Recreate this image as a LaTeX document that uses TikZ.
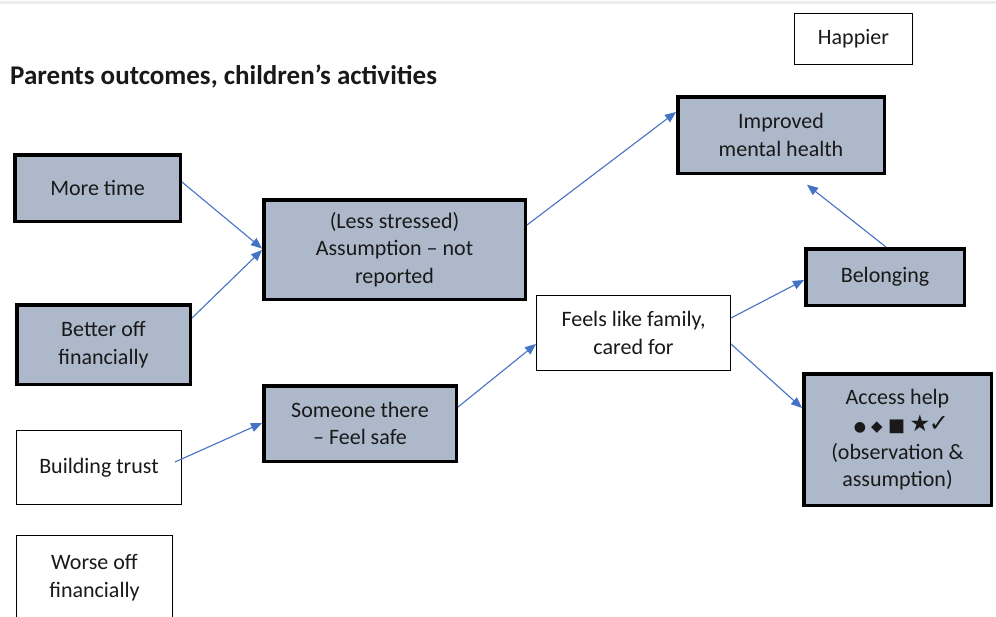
\documentclass[tikz,border=0pt]{standalone}
\usepackage{fontspec}
\setmainfont{Carlito}
\newfontfamily\symfont{DejaVu Sans}
\usetikzlibrary{arrows.meta,calc}
\definecolor{boxgray}{HTML}{ADB9CA}
\definecolor{linkblue}{HTML}{4472C4}
\definecolor{edgegray}{HTML}{ECECEC}
% one symbol, centred in a slot of the given width
\newcommand{\symslot}[3]{\makebox[#1][c]{\symfont\fontsize{#2}{12}\selectfont #3}}

\begin{document}
\begin{tikzpicture}[x=1pt,y=-1pt,
  every node/.style={font=\fontsize{22}{27.5}\selectfont, align=center, inner sep=0pt, text=black!90},
  keybox/.style={draw=black, fill=boxgray, line width=3.5pt},
  plainbox/.style={draw=black, fill=white, line width=1.3pt},
  link/.style={draw=linkblue, line width=1.1pt, -{Triangle[length=11pt,width=9pt]}}]

\useasboundingbox (0,0) rectangle (996,616);
\fill[white] (0,0) rectangle (996,616);
\draw[edgegray, line width=3pt] (0,2) -- (996,2);

% heading
\node[anchor=west, font=\bfseries\fontsize{27}{32}\selectfont] (title) at (10,77)
  {Parents outcomes, children’s activities};

% outcome boxes
\node[plainbox, minimum width=117.7pt, minimum height=50.7pt] (happier) at (853.5,39) {Happier};
\node[keybox, minimum width=165.5pt, minimum height=66.5pt] (moretime) at (97.5,188) {More time};
\node[keybox, minimum width=173.5pt, minimum height=79.5pt] (betteroff) at (103.5,344.5) {Better off\\financially};
\node[keybox, minimum width=261.5pt, minimum height=99.5pt] (lessstress) at (394.5,249.5) {(Less stressed)\\Assumption – not\\reported};
\node[keybox, minimum width=206.5pt, minimum height=76.5pt] (mental) at (781,135) {Improved\\mental health};
\node[keybox, minimum width=158.5pt, minimum height=56.5pt] (belong) at (885,277) {Belonging};
\node[keybox, minimum width=192.5pt, minimum height=75.5pt] (someone) at (360,423.5) {Someone there\\– Feel safe};
\node[keybox, minimum width=187.5pt, minimum height=131.5pt] (access) at (897.5,439.5)
  {Access help\\
   \hspace*{2pt}\symslot{28pt}{14}{●}\symslot{6pt}{15}{◆}\symslot{33pt}{18}{■}\symslot{14pt}{23}{★}\symslot{24pt}{24}{✓}\\
   (observation \&\\assumption)};
\node[plainbox, minimum width=193.7pt, minimum height=74.7pt] (family) at (633.5,333) {Feels like family,\\cared for};
\node[plainbox, minimum width=164.7pt, minimum height=73.7pt] (trust) at (99,467.5) {Building trust};
\node[plainbox, minimum width=155.7pt, minimum height=83.7pt] (worse) at (94.5,577.5) {Worse off\\financially};

% links
\draw[link] ([yshift=6pt]moretime.east) -- ([yshift=1pt]lessstress.west);
\draw[link] ([yshift=26.5pt]betteroff.east) -- ([yshift=-0.5pt]lessstress.west);
\draw[link] ([yshift=24.5pt]lessstress.east) -- ([yshift=23pt]mental.west);
\draw[link] ([xshift=-7pt,yshift=5.5pt]trust.east) -- ([yshift=0.5pt]someone.west);
\draw[link] ([yshift=16.5pt]someone.east) -- ([yshift=-11pt]family.west);
\draw[link] ([yshift=15pt]family.east) -- ([yshift=-3pt]belong.west);
\draw[link] ([yshift=-11pt]family.east) -- ([yshift=31.5pt]access.west);
\draw[link] ([xshift=1pt]belong.north) -- ([xshift=26pt,yshift=-9.75pt]mental.south);
\end{tikzpicture}
\end{document}
